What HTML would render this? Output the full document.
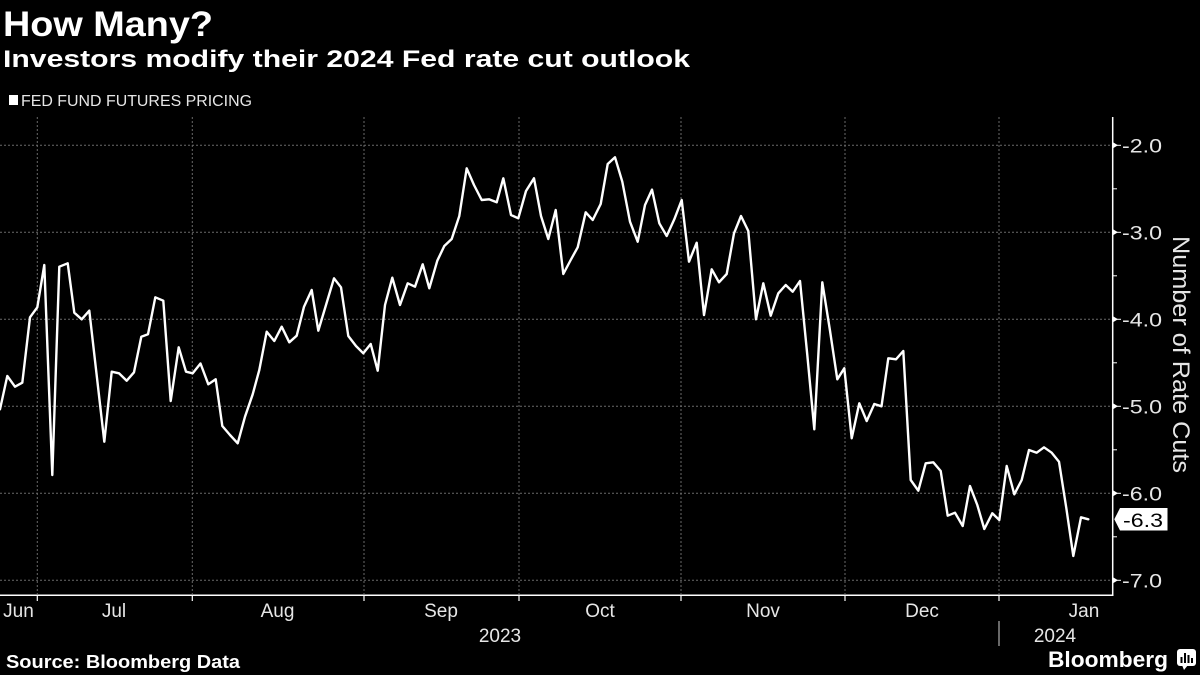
<!DOCTYPE html>
<html>
<head>
<meta charset="utf-8">
<style>
  html, body { margin:0; padding:0; background:#000; }
  body { width:1200px; height:675px; overflow:hidden; }
  svg { display:block; }
  text { font-family: "Liberation Sans", "DejaVu Sans", sans-serif; }
</style>
</head>
<body>
<svg width="1200" height="675" viewBox="0 0 1200 675" xmlns="http://www.w3.org/2000/svg">
  <rect x="0" y="0" width="1200" height="675" fill="#000"/>

  <!-- Titles -->
  <text x="3" y="36" font-size="35" font-weight="bold" fill="#fff" textLength="210" lengthAdjust="spacingAndGlyphs">How Many?</text>
  <text x="3" y="67" font-size="24" font-weight="bold" fill="#fff" textLength="687" lengthAdjust="spacingAndGlyphs">Investors modify their 2024 Fed rate cut outlook</text>

  <!-- Legend -->
  <rect x="9" y="95" width="9" height="10" fill="#fff"/>
  <text x="21" y="106" font-size="16" fill="#e6e6e6" textLength="231" lengthAdjust="spacingAndGlyphs">FED FUND FUTURES PRICING</text>

  <!-- Horizontal gridlines -->
  <g stroke="#6a6a6a" stroke-width="1" stroke-dasharray="2,2">
    <line x1="0" y1="145.3" x2="1112" y2="145.3"/>
    <line x1="0" y1="232.3" x2="1112" y2="232.3"/>
    <line x1="0" y1="319.3" x2="1112" y2="319.3"/>
    <line x1="0" y1="406.3" x2="1112" y2="406.3"/>
    <line x1="0" y1="493.3" x2="1112" y2="493.3"/>
    <line x1="0" y1="580.3" x2="1112" y2="580.3"/>
  </g>
  <!-- Vertical gridlines -->
  <g stroke="#6a6a6a" stroke-width="1" stroke-dasharray="2,2">
    <line x1="37.3" y1="117" x2="37.3" y2="594"/>
    <line x1="192.3" y1="117" x2="192.3" y2="594"/>
    <line x1="364" y1="117" x2="364" y2="594"/>
    <line x1="519" y1="117" x2="519" y2="594"/>
    <line x1="681" y1="117" x2="681" y2="594"/>
    <line x1="845" y1="117" x2="845" y2="594"/>
    <line x1="999" y1="117" x2="999" y2="594"/>
  </g>

  <!-- Axes -->
  <line x1="1112.7" y1="117" x2="1112.7" y2="596" stroke="#fff" stroke-width="1.5"/>
  <line x1="0" y1="595.3" x2="1113.4" y2="595.3" stroke="#fff" stroke-width="1.5"/>

  <!-- Month ticks -->
  <g stroke="#fff" stroke-width="1.2">
    <line x1="37.3" y1="595" x2="37.3" y2="601"/>
    <line x1="192.3" y1="595" x2="192.3" y2="601"/>
    <line x1="364" y1="595" x2="364" y2="601"/>
    <line x1="519" y1="595" x2="519" y2="601"/>
    <line x1="681" y1="595" x2="681" y2="601"/>
    <line x1="845" y1="595" x2="845" y2="601"/>
    <line x1="999" y1="595" x2="999" y2="601"/>
  </g>
  <!-- Year separator -->
  <line x1="999" y1="621" x2="999" y2="646" stroke="#cfcfcf" stroke-width="1"/>

  <!-- Right axis ticks -->
  <g fill="#fff">
    <polygon points="1113,142.3 1118,145.3 1113,148.3"/>
    <polygon points="1113,229.3 1118,232.3 1113,235.3"/>
    <polygon points="1113,316.3 1118,319.3 1113,322.3"/>
    <polygon points="1113,403.3 1118,406.3 1113,409.3"/>
    <polygon points="1113,490.3 1118,493.3 1113,496.3"/>
    <polygon points="1113,577.3 1118,580.3 1113,583.3"/>
  </g>
  <g stroke="#fff" stroke-width="1">
    <line x1="1113" y1="145.3" x2="1121" y2="145.3"/>
    <line x1="1113" y1="232.3" x2="1121" y2="232.3"/>
    <line x1="1113" y1="319.3" x2="1121" y2="319.3"/>
    <line x1="1113" y1="406.3" x2="1121" y2="406.3"/>
    <line x1="1113" y1="493.3" x2="1121" y2="493.3"/>
    <line x1="1113" y1="580.3" x2="1121" y2="580.3"/>
    <line x1="1113" y1="188.8" x2="1117" y2="188.8"/>
    <line x1="1113" y1="275.8" x2="1117" y2="275.8"/>
    <line x1="1113" y1="362.8" x2="1117" y2="362.8"/>
    <line x1="1113" y1="449.8" x2="1117" y2="449.8"/>
    <line x1="1113" y1="536.8" x2="1117" y2="536.8"/>
  </g>

  <!-- Right axis labels -->
  <g font-size="19" fill="#e6e6e6">
    <text x="1122" y="152.3" textLength="40" lengthAdjust="spacingAndGlyphs">-2.0</text>
    <text x="1122" y="239.3" textLength="40" lengthAdjust="spacingAndGlyphs">-3.0</text>
    <text x="1122" y="326.3" textLength="40" lengthAdjust="spacingAndGlyphs">-4.0</text>
    <text x="1122" y="413.3" textLength="40" lengthAdjust="spacingAndGlyphs">-5.0</text>
    <text x="1122" y="500.3" textLength="40" lengthAdjust="spacingAndGlyphs">-6.0</text>
    <text x="1122" y="587.3" textLength="40" lengthAdjust="spacingAndGlyphs">-7.0</text>
  </g>

  <!-- Axis title -->
  <text transform="translate(1173,236) rotate(90)" x="0" y="0" font-size="24" fill="#e6e6e6" textLength="237" lengthAdjust="spacingAndGlyphs">Number of Rate Cuts</text>

  <!-- Month labels -->
  <g font-size="19" fill="#e6e6e6" text-anchor="middle">
    <text x="18.5" y="617">Jun</text>
    <text x="114" y="617">Jul</text>
    <text x="277.5" y="617">Aug</text>
    <text x="441" y="617">Sep</text>
    <text x="600" y="617">Oct</text>
    <text x="763" y="617">Nov</text>
    <text x="922" y="617">Dec</text>
    <text x="1084" y="617">Jan</text>
    <text x="500" y="642">2023</text>
    <text x="1055" y="642">2024</text>
  </g>

  <!-- Data line -->
  <polyline fill="none" stroke="#fff" stroke-width="2.4" stroke-linejoin="round" stroke-linecap="round"
    points="0,409.3 7.3,376 15,386.7 22.3,382.7 30,317.3 37.3,307.3 44.3,265 52.3,475 59.3,266.7 67.7,263.3 74.3,312.7 81.7,319.3 89.3,310.7 97,378 104.3,441.7 111.7,371.7 119,373.3 126.7,380.7 134,372.3 141.3,336.7 148,334.3 155.3,297.3 163.3,300.7 170.7,401 178.7,347.3 186,371.7 192.7,373.3 200.5,363.5 208.3,384.3 215.7,379.3 222.3,426 230,435 237.7,443.3 245,416.7 252.7,394.3 259.3,370 266.7,331.7 274.3,341 281.7,326.7 289.3,342.3 296.7,335.7 304,306.7 311.7,290 318.3,330.7 326,305 334,278.3 341,287.3 348.3,336 356,346 363.3,353.3 370.7,344 377.7,370.7 385,305 392.3,277.7 400,305 407.7,283.3 415,286.7 422.7,264.3 429.3,288.3 437.3,260.7 444.3,246 451.7,239 459.3,216 466.7,168.3 474,185 481.7,200 489,199.3 496.7,202.3 503.3,178.3 511,215 518.3,218.3 526,191 534,178.3 541,216 548.3,239 555.7,210 563.3,274 570.7,260 577.7,247.3 585.7,212.3 592.7,220 600.7,204 607.7,164 615,157.3 622.3,181.7 630,221.7 637.7,241.7 645,205 652,189.6 659.3,223.3 666.7,236 674.3,219.3 681.7,200 689,261.7 696.7,242.7 704,315 711.7,269.3 719,282.3 726.7,274 734,233.3 741,216 748.3,231 756,319.3 763.3,283.3 770.7,315.7 778.3,293.3 785.7,285 792.7,291.7 800,281 807.3,355 814.3,429.3 822.3,282.3 830,330.7 837.3,379.3 844.3,368.3 851.7,438.3 859.3,403.3 866.7,421 874.3,404 881.5,406.3 888.3,358.3 896,359.3 903.3,351 910.7,480 918.3,490.7 925.7,463.3 933.3,462.3 940.7,471 947.7,515.7 955,512.7 962.7,526 970,486 977.3,505 984.3,529 992.3,513.3 999.3,520 1006.7,466 1014.3,494.3 1021.7,480 1029,450 1036.7,452.7 1044,447.3 1051.7,452.7 1059,461.7 1066.3,508 1073.3,556 1081,517.3 1088.3,519.3"/>

  <!-- Last value label -->
  <polygon points="1114.3,519.3 1120,508 1167.5,508 1167.5,530.5 1120,530.5" fill="#fff"/>
  <text x="1123" y="527" font-size="19" fill="#000" textLength="40" lengthAdjust="spacingAndGlyphs">-6.3</text>

  <!-- Footer -->
  <text x="6" y="668" font-size="18" font-weight="bold" fill="#fff" textLength="234" lengthAdjust="spacingAndGlyphs">Source: Bloomberg Data</text>
  <text x="1048" y="667" font-size="22" font-weight="bold" fill="#fff" textLength="120" lengthAdjust="spacingAndGlyphs">Bloomberg</text>
  <!-- Bloomberg icon -->
  <rect x="1177" y="649" width="19" height="17" rx="3" ry="3" fill="#fff"/>
  <polygon points="1182,665 1188,665 1184,670" fill="#fff"/>
  <g fill="#000">
    <rect x="1180.5" y="657" width="2" height="6"/>
    <rect x="1184" y="653" width="2" height="10"/>
    <rect x="1187.5" y="655" width="2" height="8"/>
    <rect x="1191" y="658" width="2" height="5"/>
  </g>
</svg>
</body>
</html>
